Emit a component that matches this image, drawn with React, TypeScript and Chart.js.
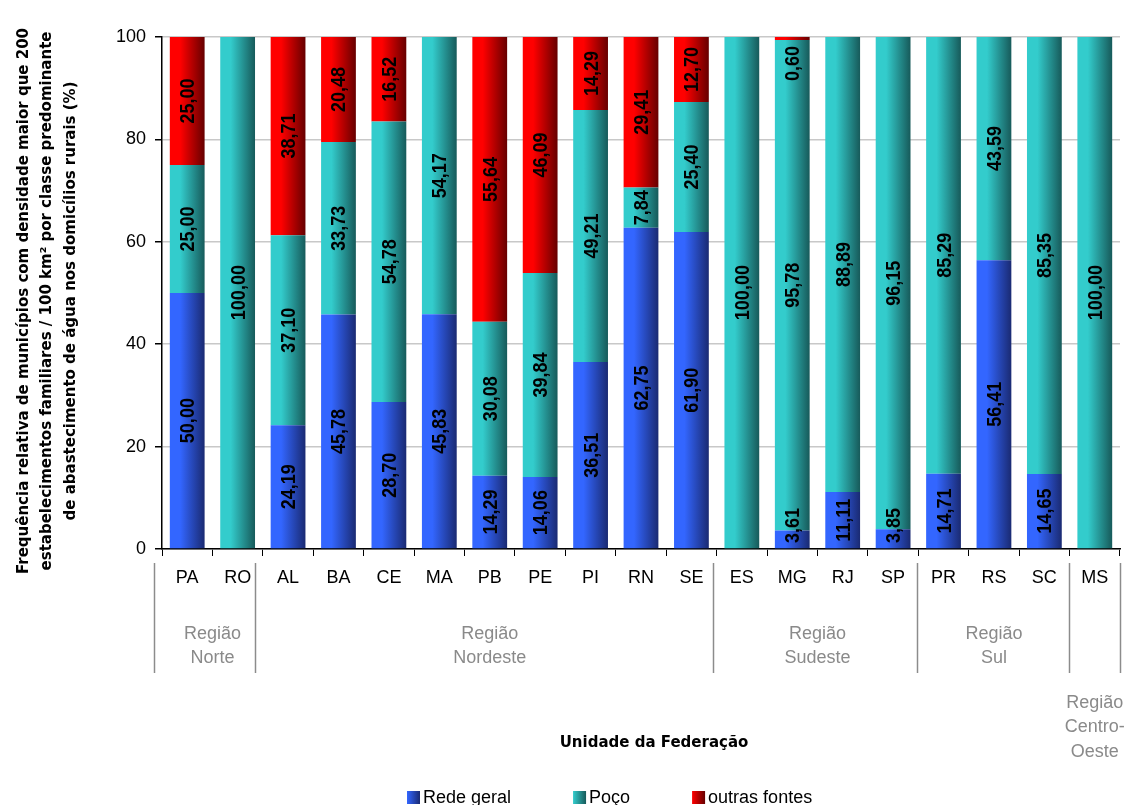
import React, { useEffect, useRef } from "react";
import { Chart, registerables } from "chart.js";

Chart.register(...registerables);

// ---------- data ----------
const states = ["PA", "RO", "AL", "BA", "CE", "MA", "PB", "PE", "PI", "RN", "SE", "ES", "MG", "RJ", "SP", "PR", "RS", "SC", "MS"];
const redeGeral = [50.0, 0, 24.19, 45.78, 28.7, 45.83, 14.29, 14.06, 36.51, 62.75, 61.9, 0, 3.61, 11.11, 3.85, 14.71, 56.41, 14.65, 0];
const poco = [25.0, 100.0, 37.1, 33.73, 54.78, 54.17, 30.08, 39.84, 49.21, 7.84, 25.4, 100.0, 95.78, 88.89, 96.15, 85.29, 43.59, 85.35, 100.0];
const outrasFontes = [25.0, 0, 38.71, 20.48, 16.52, 0, 55.64, 46.09, 14.29, 29.41, 12.7, 0, 0.6, 0, 0, 0, 0, 0, 0];
const seriesNames = ["Rede geral", "Poço", "outras fontes"];
const regionNames = [["Região", "Norte"], ["Região", "Nordeste"], ["Região", "Sudeste"], ["Região", "Sul"], ["Região", "Centro-", "Oeste"]];
const regionSpans = [2, 9, 4, 3, 1];
const yTicks = [0, 20, 40, 60, 80, 100];
const yTitle = [
  "Frequência relativa de municípios com densidade maior que 200",
  "estabelecimentos familiares / 100 km² por classe predominante",
  "de abastecimento de água nos domicílios rurais (%)",
];
const xTitle = "Unidade da Federação";

// ---------- styles ----------
const LIGHT = ["#3366ff", "#33cccc", "#ff0000"];
const DARK = ["#1a2a72", "#175a5a", "#660000"];
const BAR_PCT = 0.69;
const SANS = '"Liberation Sans", Arial, sans-serif';
const BOLD_TITLE = 'bold 15px "DejaVu Sans", Verdana, sans-serif';

function gradientFill(di: number) {
  return (c: any) => {
    const chart = c.chart;
    const xs = chart.scales && chart.scales.x;
    if (!chart.chartArea || !xs || c.dataIndex === undefined || c.type !== "data") return LIGHT[di];
    const cx = xs.getPixelForValue(c.dataIndex);
    const w = (xs.width / states.length) * BAR_PCT;
    const g = chart.ctx.createLinearGradient(cx - w / 2, 0, cx + w / 2, 0);
    g.addColorStop(0, LIGHT[di]);
    g.addColorStop(0.3, LIGHT[di]);
    g.addColorStop(1, DARK[di]);
    return g;
  };
}

const labelPlugin = {
  id: "barLabels",
  afterDatasetsDraw(chart: any) {
    const ctx = chart.ctx;
    const area = chart.chartArea;
    const SX = 0.9;
    ctx.save();
    ctx.font = "bold 20px " + SANS;
    ctx.fillStyle = "#000";
    ctx.textAlign = "center";
    ctx.textBaseline = "alphabetic";
    chart.data.datasets.forEach((ds: any, di: number) => {
      const meta = chart.getDatasetMeta(di);
      meta.data.forEach((bar: any, i: number) => {
        const v = ds.data[i];
        if (!v) return;
        const text = v.toFixed(2).replace(".", ",");
        const len = ctx.measureText(text).width * SX;
        let cy = (bar.y + bar.base) / 2;
        cy = Math.max(cy, area.top + len / 2 + 9);
        cy = Math.min(cy, area.bottom - len / 2 - 6);
        ctx.save();
        ctx.translate(bar.x, cy);
        ctx.rotate(-Math.PI / 2);
        ctx.scale(SX, 1);
        ctx.fillText(text, 0, 7);
        ctx.restore();
      });
    });
    ctx.restore();
  },
};

const decorPlugin = {
  id: "decor",
  afterDraw(chart: any) {
    const ctx = chart.ctx;
    const xs = chart.scales.x;
    const area = chart.chartArea;
    const step = xs.width / states.length;
    ctx.save();
    // region separators
    const bounds = [0];
    let acc = 0;
    regionSpans.forEach((s) => {
      acc += s;
      bounds.push(acc);
    });
    ctx.strokeStyle = "#8c8c8c";
    ctx.lineWidth = 1.5;
    bounds.forEach((b) => {
      const x = Math.round(xs.left + b * step - 8.5 * (1 - b / states.length)) + 0.5;
      ctx.beginPath();
      ctx.moveTo(x, area.bottom + 14);
      ctx.lineTo(x, area.bottom + 124);
      ctx.stroke();
    });
    // region names
    ctx.fillStyle = "#8a8a8a";
    ctx.font = "18px " + SANS;
    ctx.textAlign = "center";
    ctx.textBaseline = "middle";
    regionNames.forEach((lines, r) => {
      const cx = xs.left + ((bounds[r] + bounds[r + 1]) / 2) * step;
      const below = lines.length > 2;
      const y0 = below ? area.bottom + 154 : area.bottom + 85;
      lines.forEach((t, k) => ctx.fillText(t, cx, y0 + k * 24.3));
    });
    // y title (rotated, three lines)
    ctx.fillStyle = "#000";
    ctx.font = BOLD_TITLE;
    ctx.textAlign = "center";
    ctx.textBaseline = "middle";
    yTitle.forEach((t, k) => {
      ctx.save();
      ctx.translate(24 + k * 23.5, 301);
      ctx.rotate(-Math.PI / 2);
      ctx.fillText(t, 0, 0);
      ctx.restore();
    });
    // x title
    ctx.fillText(xTitle, 654, area.bottom + 194);
    // legend
    ctx.font = "18px " + SANS;
    ctx.textAlign = "left";
    let lx = 407;
    const ly = area.bottom + 248;
    seriesNames.forEach((name, i) => {
      const g = ctx.createLinearGradient(lx, 0, lx + 13, 0);
      g.addColorStop(0, LIGHT[i]);
      g.addColorStop(1, DARK[i]);
      ctx.fillStyle = g;
      ctx.fillRect(lx, ly - 6, 13, 13);
      ctx.fillStyle = "#000";
      ctx.fillText(name, lx + 16, ly + 1);
      lx += 16 + ctx.measureText(name).width + 62;
    });
    ctx.restore();
  },
};

export default function App() {
  const ref = useRef<HTMLCanvasElement | null>(null);
  useEffect(() => {
    if (!ref.current) return;
    const seriesData = [redeGeral, poco, outrasFontes];
    const chart = new Chart(ref.current, {
      type: "bar",
      data: {
        labels: states,
        datasets: seriesData.map((d, i) => ({
          label: seriesNames[i],
          data: d,
          backgroundColor: gradientFill(i),
          borderWidth: 0,
          barPercentage: BAR_PCT,
          categoryPercentage: 1,
        })),
      },
      options: {
        responsive: false,
        animation: false,
        layout: { padding: { top: 37, right: 10, left: 0, bottom: 0 } },
        plugins: { legend: { display: false }, tooltip: { enabled: false }, title: { display: false } },
        scales: {
          x: {
            stacked: true,
            afterFit: (s: any) => {
              s.height = 256;
            },
            grid: { drawOnChartArea: false, drawTicks: true, tickLength: 7, color: "#000", offset: true },
            border: { color: "#000", width: 1.5 },
            ticks: { color: "#000", font: { family: SANS, size: 18 }, padding: 11, maxRotation: 0, autoSkip: false },
          },
          y: {
            stacked: true,
            min: 0,
            max: 100,
            afterFit: (s: any) => {
              s.width = 162;
            },
            afterBuildTicks: (s: any) => {
              s.ticks = yTicks.map((v) => ({ value: v }));
            },
            grid: { color: "#c8c8c8", lineWidth: 1.5, tickColor: "#000", tickLength: 7 },
            border: { color: "#000", width: 1.5 },
            ticks: { color: "#000", font: { family: SANS, size: 18 }, padding: 9 },
          },
        },
      },
      plugins: [labelPlugin, decorPlugin],
    });
    return () => chart.destroy();
  }, []);
  return (
    <div style={{ position: "fixed", left: 0, top: 0, width: 1130, height: 805, background: "#fff" }}>
      <canvas ref={ref} width={1130} height={805} style={{ width: 1130, height: 805, display: "block" }} />
    </div>
  );
}
